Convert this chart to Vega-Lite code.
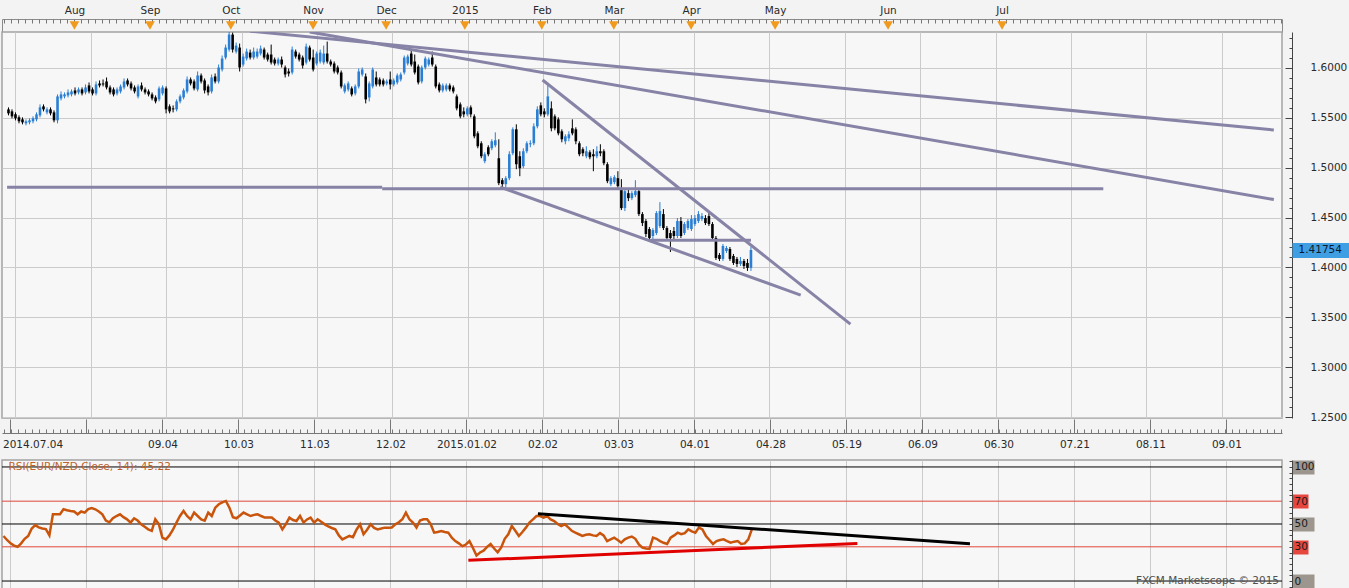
{
  "$schema": "https://vega.github.io/schema/vega-lite/v6.json",
  "background": "#f3f3f3",
  "padding": 0,
  "spacing": 0,
  "bounds": "flush",
  "config": {
    "view": {"stroke": "#a3a3a3", "strokeWidth": 1.5, "fill": "#f7f7f7"},
    "font": "DejaVu Sans",
    "axis": {"labelFont": "DejaVu Sans", "labelFontSize": 10, "labelColor": "#2a2a2a", "tickColor": "#666666", "domainColor": "#666666", "gridColor": "#cbcbcb", "gridWidth": 1, "labelFlush": false, "labelOverlap": false}
  },
  "datasets": {
    "bars": [
      {"i":0,"o":1.5585,"h":1.5605,"l":1.5525,"c":1.5545,"r":39.5},
      {"i":1,"o":1.5565,"h":1.5585,"l":1.5495,"c":1.5515,"r":36},
      {"i":2,"o":1.5535,"h":1.5555,"l":1.5475,"c":1.5495,"r":33},
      {"i":3,"o":1.5505,"h":1.5525,"l":1.5445,"c":1.5465,"r":31},
      {"i":4,"o":1.5485,"h":1.5505,"l":1.5435,"c":1.5455,"r":30},
      {"i":5,"o":1.5445,"h":1.5485,"l":1.5425,"c":1.5465,"r":33},
      {"i":6,"o":1.5455,"h":1.5495,"l":1.5435,"c":1.5475,"r":37},
      {"i":7,"o":1.5465,"h":1.5515,"l":1.5445,"c":1.5495,"r":39.5},
      {"i":8,"o":1.5485,"h":1.5555,"l":1.5465,"c":1.5535,"r":46},
      {"i":9,"o":1.5525,"h":1.5635,"l":1.5505,"c":1.5605,"r":49},
      {"i":10,"o":1.5615,"h":1.5635,"l":1.5565,"c":1.5585,"r":47},
      {"i":11,"o":1.5555,"h":1.5605,"l":1.5535,"c":1.5585,"r":46},
      {"i":12,"o":1.5585,"h":1.5605,"l":1.5525,"c":1.5545,"r":45.5},
      {"i":13,"o":1.5555,"h":1.5575,"l":1.5455,"c":1.5475,"r":40},
      {"i":14,"o":1.5475,"h":1.5735,"l":1.5445,"c":1.5715,"r":58.5},
      {"i":15,"o":1.5695,"h":1.5765,"l":1.5675,"c":1.5735,"r":58.5},
      {"i":16,"o":1.5715,"h":1.5755,"l":1.5695,"c":1.5735,"r":58.5},
      {"i":17,"o":1.5725,"h":1.5785,"l":1.5705,"c":1.5755,"r":62.9},
      {"i":18,"o":1.5735,"h":1.5785,"l":1.5715,"c":1.5765,"r":62},
      {"i":19,"o":1.5775,"h":1.5805,"l":1.5725,"c":1.5745,"r":61.4},
      {"i":20,"o":1.5755,"h":1.5805,"l":1.5735,"c":1.5785,"r":61},
      {"i":21,"o":1.5785,"h":1.5805,"l":1.5725,"c":1.5745,"r":58.5},
      {"i":22,"o":1.5755,"h":1.5835,"l":1.5735,"c":1.5805,"r":61},
      {"i":23,"o":1.5825,"h":1.5855,"l":1.5745,"c":1.5765,"r":60},
      {"i":24,"o":1.5785,"h":1.5805,"l":1.5725,"c":1.5745,"r":63},
      {"i":25,"o":1.5745,"h":1.5865,"l":1.5725,"c":1.5835,"r":64},
      {"i":26,"o":1.5845,"h":1.5875,"l":1.5805,"c":1.5825,"r":62.9},
      {"i":27,"o":1.5845,"h":1.5885,"l":1.5815,"c":1.5835,"r":61},
      {"i":28,"o":1.5865,"h":1.5905,"l":1.5785,"c":1.5805,"r":58.5},
      {"i":29,"o":1.5805,"h":1.5825,"l":1.5735,"c":1.5755,"r":53},
      {"i":30,"o":1.5785,"h":1.5805,"l":1.5715,"c":1.5735,"r":51.5},
      {"i":31,"o":1.5745,"h":1.5805,"l":1.5725,"c":1.5785,"r":55},
      {"i":32,"o":1.5765,"h":1.5835,"l":1.5745,"c":1.5815,"r":57},
      {"i":33,"o":1.5805,"h":1.5895,"l":1.5785,"c":1.5865,"r":58.5},
      {"i":34,"o":1.5875,"h":1.5895,"l":1.5815,"c":1.5835,"r":56},
      {"i":35,"o":1.5845,"h":1.5865,"l":1.5775,"c":1.5795,"r":54.1},
      {"i":36,"o":1.5805,"h":1.5825,"l":1.5745,"c":1.5765,"r":51.2},
      {"i":37,"o":1.5715,"h":1.5835,"l":1.5695,"c":1.5815,"r":55},
      {"i":38,"o":1.5825,"h":1.5855,"l":1.5765,"c":1.5785,"r":53},
      {"i":39,"o":1.5785,"h":1.5805,"l":1.5735,"c":1.5755,"r":49.7},
      {"i":40,"o":1.5765,"h":1.5785,"l":1.5715,"c":1.5735,"r":47.5},
      {"i":41,"o":1.5735,"h":1.5755,"l":1.5675,"c":1.5695,"r":45.3},
      {"i":42,"o":1.5705,"h":1.5725,"l":1.5645,"c":1.5665,"r":44},
      {"i":43,"o":1.5685,"h":1.5815,"l":1.5665,"c":1.5795,"r":54.1},
      {"i":44,"o":1.5745,"h":1.5825,"l":1.5725,"c":1.5805,"r":50},
      {"i":45,"o":1.5795,"h":1.5815,"l":1.5545,"c":1.5585,"r":38},
      {"i":46,"o":1.5615,"h":1.5635,"l":1.5545,"c":1.5565,"r":36.5},
      {"i":47,"o":1.5595,"h":1.5625,"l":1.5555,"c":1.5585,"r":40},
      {"i":48,"o":1.5585,"h":1.5685,"l":1.5565,"c":1.5665,"r":45},
      {"i":49,"o":1.5665,"h":1.5735,"l":1.5645,"c":1.5715,"r":51.2},
      {"i":50,"o":1.5705,"h":1.5795,"l":1.5685,"c":1.5775,"r":57},
      {"i":51,"o":1.5765,"h":1.5915,"l":1.5745,"c":1.5885,"r":61.4},
      {"i":52,"o":1.5885,"h":1.5905,"l":1.5825,"c":1.5845,"r":57},
      {"i":53,"o":1.5865,"h":1.5885,"l":1.5775,"c":1.5795,"r":54.1},
      {"i":54,"o":1.5785,"h":1.5965,"l":1.5765,"c":1.5925,"r":60},
      {"i":55,"o":1.5925,"h":1.5945,"l":1.5845,"c":1.5865,"r":57},
      {"i":56,"o":1.5875,"h":1.5895,"l":1.5745,"c":1.5775,"r":54.1},
      {"i":57,"o":1.5815,"h":1.5835,"l":1.5725,"c":1.5755,"r":53},
      {"i":58,"o":1.5765,"h":1.5935,"l":1.5745,"c":1.5905,"r":60},
      {"i":59,"o":1.5915,"h":1.5945,"l":1.5845,"c":1.5865,"r":57},
      {"i":60,"o":1.5865,"h":1.6035,"l":1.5845,"c":1.6005,"r":64.3},
      {"i":61,"o":1.5985,"h":1.6125,"l":1.5965,"c":1.6095,"r":67.3},
      {"i":62,"o":1.6105,"h":1.6235,"l":1.6085,"c":1.6205,"r":69},
      {"i":63,"o":1.6185,"h":1.6365,"l":1.6165,"c":1.6335,"r":70.2},
      {"i":64,"o":1.6335,"h":1.6355,"l":1.6155,"c":1.6185,"r":64.3},
      {"i":65,"o":1.6165,"h":1.6255,"l":1.6145,"c":1.6225,"r":56},
      {"i":66,"o":1.6205,"h":1.6245,"l":1.5965,"c":1.6005,"r":55},
      {"i":67,"o":1.6035,"h":1.6145,"l":1.6015,"c":1.6115,"r":57.5},
      {"i":68,"o":1.6095,"h":1.6195,"l":1.6075,"c":1.6165,"r":60},
      {"i":69,"o":1.6155,"h":1.6185,"l":1.6085,"c":1.6105,"r":58.5},
      {"i":70,"o":1.6105,"h":1.6205,"l":1.6085,"c":1.6165,"r":57},
      {"i":71,"o":1.6115,"h":1.6195,"l":1.6095,"c":1.6165,"r":58},
      {"i":72,"o":1.6145,"h":1.6225,"l":1.6125,"c":1.6195,"r":58.5},
      {"i":73,"o":1.6185,"h":1.6205,"l":1.6085,"c":1.6105,"r":57},
      {"i":74,"o":1.6135,"h":1.6155,"l":1.6065,"c":1.6085,"r":55.6},
      {"i":75,"o":1.6135,"h":1.6235,"l":1.6035,"c":1.6055,"r":55.6},
      {"i":76,"o":1.6085,"h":1.6105,"l":1.6025,"c":1.6045,"r":55.6},
      {"i":77,"o":1.6045,"h":1.6105,"l":1.6025,"c":1.6085,"r":53},
      {"i":78,"o":1.6085,"h":1.6115,"l":1.6005,"c":1.6035,"r":51.2},
      {"i":79,"o":1.6005,"h":1.6025,"l":1.5905,"c":1.5935,"r":45.3},
      {"i":80,"o":1.5965,"h":1.5995,"l":1.5915,"c":1.5945,"r":50},
      {"i":81,"o":1.5955,"h":1.6215,"l":1.5935,"c":1.6185,"r":55.6},
      {"i":82,"o":1.6165,"h":1.6185,"l":1.6095,"c":1.6115,"r":53.5},
      {"i":83,"o":1.6135,"h":1.6155,"l":1.6065,"c":1.6085,"r":52.6},
      {"i":84,"o":1.6105,"h":1.6125,"l":1.5995,"c":1.6025,"r":57},
      {"i":85,"o":1.6055,"h":1.6245,"l":1.6035,"c":1.6215,"r":51.2},
      {"i":86,"o":1.6205,"h":1.6225,"l":1.6065,"c":1.6085,"r":54},
      {"i":87,"o":1.6105,"h":1.6185,"l":1.5965,"c":1.5985,"r":55.6},
      {"i":88,"o":1.6045,"h":1.6165,"l":1.6025,"c":1.6145,"r":51.2},
      {"i":89,"o":1.6065,"h":1.6185,"l":1.6045,"c":1.6155,"r":54.1},
      {"i":90,"o":1.6055,"h":1.6225,"l":1.6035,"c":1.6145,"r":52},
      {"i":91,"o":1.6145,"h":1.6265,"l":1.6045,"c":1.6065,"r":49.7},
      {"i":92,"o":1.6065,"h":1.6085,"l":1.6015,"c":1.6035,"r":48},
      {"i":93,"o":1.6045,"h":1.6065,"l":1.5945,"c":1.5965,"r":46.5},
      {"i":94,"o":1.6005,"h":1.6025,"l":1.5935,"c":1.5955,"r":45.3},
      {"i":95,"o":1.5955,"h":1.5975,"l":1.5795,"c":1.5815,"r":40},
      {"i":96,"o":1.5765,"h":1.5845,"l":1.5745,"c":1.5825,"r":36.5},
      {"i":97,"o":1.5785,"h":1.5865,"l":1.5765,"c":1.5845,"r":38},
      {"i":98,"o":1.5795,"h":1.5815,"l":1.5715,"c":1.5735,"r":39.5},
      {"i":99,"o":1.5745,"h":1.5835,"l":1.5725,"c":1.5815,"r":38.5},
      {"i":100,"o":1.5815,"h":1.5995,"l":1.5795,"c":1.5965,"r":45},
      {"i":101,"o":1.5935,"h":1.6005,"l":1.5915,"c":1.5985,"r":49.7},
      {"i":102,"o":1.5915,"h":1.5945,"l":1.5645,"c":1.5685,"r":41},
      {"i":103,"o":1.5705,"h":1.5865,"l":1.5665,"c":1.5845,"r":45},
      {"i":104,"o":1.5815,"h":1.6005,"l":1.5795,"c":1.5985,"r":49.7},
      {"i":105,"o":1.5905,"h":1.5965,"l":1.5815,"c":1.5835,"r":46.5},
      {"i":106,"o":1.5885,"h":1.5905,"l":1.5815,"c":1.5835,"r":45.3},
      {"i":107,"o":1.5875,"h":1.5895,"l":1.5815,"c":1.5835,"r":46},
      {"i":108,"o":1.5845,"h":1.5885,"l":1.5825,"c":1.5865,"r":46.8},
      {"i":109,"o":1.5885,"h":1.5965,"l":1.5785,"c":1.5835,"r":46.8},
      {"i":110,"o":1.5835,"h":1.5895,"l":1.5815,"c":1.5875,"r":47},
      {"i":111,"o":1.5855,"h":1.5945,"l":1.5835,"c":1.5925,"r":49.7},
      {"i":112,"o":1.5885,"h":1.5955,"l":1.5865,"c":1.5935,"r":51.5},
      {"i":113,"o":1.5955,"h":1.6125,"l":1.5935,"c":1.6105,"r":54.1},
      {"i":114,"o":1.6045,"h":1.6135,"l":1.6025,"c":1.6115,"r":60},
      {"i":115,"o":1.6145,"h":1.6175,"l":1.6015,"c":1.6035,"r":54.1},
      {"i":116,"o":1.6065,"h":1.6135,"l":1.5935,"c":1.5955,"r":51.2},
      {"i":117,"o":1.6015,"h":1.6035,"l":1.5835,"c":1.5855,"r":46.8},
      {"i":118,"o":1.5865,"h":1.6025,"l":1.5845,"c":1.6005,"r":53},
      {"i":119,"o":1.6005,"h":1.6115,"l":1.5985,"c":1.6095,"r":54.1},
      {"i":120,"o":1.6035,"h":1.6105,"l":1.6015,"c":1.6085,"r":54.1},
      {"i":121,"o":1.6105,"h":1.6165,"l":1.6015,"c":1.6035,"r":50},
      {"i":122,"o":1.6015,"h":1.6035,"l":1.5795,"c":1.5815,"r":42.4},
      {"i":123,"o":1.5835,"h":1.5855,"l":1.5755,"c":1.5775,"r":43},
      {"i":124,"o":1.5775,"h":1.5845,"l":1.5755,"c":1.5825,"r":43.9},
      {"i":125,"o":1.5785,"h":1.5845,"l":1.5765,"c":1.5825,"r":43},
      {"i":126,"o":1.5825,"h":1.5845,"l":1.5765,"c":1.5785,"r":42.4},
      {"i":127,"o":1.5805,"h":1.5825,"l":1.5745,"c":1.5765,"r":38},
      {"i":128,"o":1.5715,"h":1.5735,"l":1.5575,"c":1.5595,"r":35},
      {"i":129,"o":1.5635,"h":1.5655,"l":1.5495,"c":1.5515,"r":33},
      {"i":130,"o":1.5565,"h":1.5605,"l":1.5505,"c":1.5535,"r":30.6},
      {"i":131,"o":1.5535,"h":1.5615,"l":1.5515,"c":1.5595,"r":32},
      {"i":132,"o":1.5605,"h":1.5625,"l":1.5505,"c":1.5535,"r":35},
      {"i":133,"o":1.5515,"h":1.5535,"l":1.5295,"c":1.5315,"r":29},
      {"i":134,"o":1.5345,"h":1.5365,"l":1.5195,"c":1.5215,"r":22.3},
      {"i":135,"o":1.5245,"h":1.5265,"l":1.5095,"c":1.5115,"r":25},
      {"i":136,"o":1.5065,"h":1.5155,"l":1.5045,"c":1.5135,"r":26.6},
      {"i":137,"o":1.5205,"h":1.5225,"l":1.5115,"c":1.5135,"r":30},
      {"i":138,"o":1.5195,"h":1.5285,"l":1.5175,"c":1.5265,"r":32.5},
      {"i":139,"o":1.5225,"h":1.5355,"l":1.5205,"c":1.5275,"r":28.5},
      {"i":140,"o":1.5095,"h":1.5285,"l":1.4825,"c":1.4845,"r":25.2},
      {"i":141,"o":1.4875,"h":1.4895,"l":1.4805,"c":1.4835,"r":29.5},
      {"i":142,"o":1.4835,"h":1.4915,"l":1.4805,"c":1.4895,"r":37},
      {"i":143,"o":1.4895,"h":1.5165,"l":1.4875,"c":1.5135,"r":41},
      {"i":144,"o":1.5145,"h":1.5405,"l":1.5125,"c":1.5385,"r":48.2},
      {"i":145,"o":1.5385,"h":1.5435,"l":1.4985,"c":1.5035,"r":44},
      {"i":146,"o":1.5115,"h":1.5165,"l":1.4915,"c":1.4995,"r":39.5},
      {"i":147,"o":1.5015,"h":1.5195,"l":1.4995,"c":1.5165,"r":43},
      {"i":148,"o":1.5165,"h":1.5265,"l":1.5145,"c":1.5245,"r":46.8},
      {"i":149,"o":1.5235,"h":1.5275,"l":1.5205,"c":1.5245,"r":51.2},
      {"i":150,"o":1.5245,"h":1.5445,"l":1.5225,"c":1.5415,"r":54},
      {"i":151,"o":1.5415,"h":1.5615,"l":1.5395,"c":1.5585,"r":57},
      {"i":152,"o":1.5625,"h":1.5655,"l":1.5515,"c":1.5535,"r":57},
      {"i":153,"o":1.5565,"h":1.5595,"l":1.5505,"c":1.5535,"r":55.6},
      {"i":154,"o":1.5535,"h":1.5835,"l":1.5515,"c":1.5715,"r":57},
      {"i":155,"o":1.5595,"h":1.5665,"l":1.5365,"c":1.5395,"r":54},
      {"i":156,"o":1.5515,"h":1.5535,"l":1.5375,"c":1.5395,"r":52.6},
      {"i":157,"o":1.5485,"h":1.5505,"l":1.5325,"c":1.5345,"r":50},
      {"i":158,"o":1.5365,"h":1.5385,"l":1.5255,"c":1.5285,"r":48.2},
      {"i":159,"o":1.5265,"h":1.5335,"l":1.5235,"c":1.5315,"r":49.7},
      {"i":160,"o":1.5295,"h":1.5365,"l":1.5265,"c":1.5335,"r":47},
      {"i":161,"o":1.5395,"h":1.5485,"l":1.5325,"c":1.5345,"r":44},
      {"i":162,"o":1.5385,"h":1.5405,"l":1.5235,"c":1.5265,"r":42.4},
      {"i":163,"o":1.5245,"h":1.5265,"l":1.5115,"c":1.5135,"r":41},
      {"i":164,"o":1.5185,"h":1.5205,"l":1.5115,"c":1.5145,"r":39.5},
      {"i":165,"o":1.5115,"h":1.5215,"l":1.5095,"c":1.5165,"r":40.5},
      {"i":166,"o":1.5155,"h":1.5175,"l":1.5085,"c":1.5105,"r":41},
      {"i":167,"o":1.5135,"h":1.5185,"l":1.4965,"c":1.5115,"r":40},
      {"i":168,"o":1.5115,"h":1.5215,"l":1.5095,"c":1.5165,"r":39.5},
      {"i":169,"o":1.5165,"h":1.5235,"l":1.5115,"c":1.5145,"r":42},
      {"i":170,"o":1.5165,"h":1.5185,"l":1.5025,"c":1.5045,"r":40},
      {"i":171,"o":1.5035,"h":1.5055,"l":1.4845,"c":1.4865,"r":35},
      {"i":172,"o":1.4835,"h":1.4915,"l":1.4815,"c":1.4895,"r":36.5},
      {"i":173,"o":1.4855,"h":1.4925,"l":1.4835,"c":1.4905,"r":38},
      {"i":174,"o":1.4895,"h":1.4965,"l":1.4795,"c":1.4815,"r":36},
      {"i":175,"o":1.4785,"h":1.4885,"l":1.4575,"c":1.4595,"r":33.6},
      {"i":176,"o":1.4595,"h":1.4785,"l":1.4565,"c":1.4765,"r":36.5},
      {"i":177,"o":1.4745,"h":1.4785,"l":1.4665,"c":1.4695,"r":38},
      {"i":178,"o":1.4695,"h":1.4765,"l":1.4675,"c":1.4745,"r":39},
      {"i":179,"o":1.4725,"h":1.4875,"l":1.4705,"c":1.4765,"r":37},
      {"i":180,"o":1.4765,"h":1.4785,"l":1.4515,"c":1.4535,"r":32},
      {"i":181,"o":1.4535,"h":1.4555,"l":1.4415,"c":1.4445,"r":29.2},
      {"i":182,"o":1.4465,"h":1.4485,"l":1.4305,"c":1.4335,"r":28.5},
      {"i":183,"o":1.4385,"h":1.4405,"l":1.4275,"c":1.4295,"r":28.1},
      {"i":184,"o":1.4315,"h":1.4395,"l":1.4285,"c":1.4375,"r":38},
      {"i":185,"o":1.4345,"h":1.4565,"l":1.4325,"c":1.4545,"r":37},
      {"i":186,"o":1.4415,"h":1.4655,"l":1.4395,"c":1.4565,"r":35},
      {"i":187,"o":1.4535,"h":1.4585,"l":1.4375,"c":1.4395,"r":33.5},
      {"i":188,"o":1.4395,"h":1.4415,"l":1.4275,"c":1.4295,"r":32.5},
      {"i":189,"o":1.4345,"h":1.4375,"l":1.4155,"c":1.4295,"r":38},
      {"i":190,"o":1.4365,"h":1.4405,"l":1.4285,"c":1.4315,"r":40},
      {"i":191,"o":1.4315,"h":1.4495,"l":1.4295,"c":1.4465,"r":42.4},
      {"i":192,"o":1.4465,"h":1.4505,"l":1.4295,"c":1.4315,"r":41},
      {"i":193,"o":1.4345,"h":1.4455,"l":1.4325,"c":1.4435,"r":42},
      {"i":194,"o":1.4395,"h":1.4485,"l":1.4375,"c":1.4465,"r":45.3},
      {"i":195,"o":1.4385,"h":1.4525,"l":1.4365,"c":1.4485,"r":43.5},
      {"i":196,"o":1.4435,"h":1.4525,"l":1.4415,"c":1.4495,"r":42.4},
      {"i":197,"o":1.4465,"h":1.4565,"l":1.4445,"c":1.4535,"r":46.8},
      {"i":198,"o":1.4485,"h":1.4545,"l":1.4465,"c":1.4515,"r":45.3},
      {"i":199,"o":1.4495,"h":1.4525,"l":1.4425,"c":1.4445,"r":39.5},
      {"i":200,"o":1.4515,"h":1.4545,"l":1.4415,"c":1.4435,"r":36},
      {"i":201,"o":1.4435,"h":1.4455,"l":1.4275,"c":1.4295,"r":32.5},
      {"i":202,"o":1.4295,"h":1.4315,"l":1.4075,"c":1.4095,"r":35},
      {"i":203,"o":1.4125,"h":1.4145,"l":1.4065,"c":1.4085,"r":36},
      {"i":204,"o":1.4085,"h":1.4235,"l":1.4065,"c":1.4215,"r":36.5},
      {"i":205,"o":1.4165,"h":1.4215,"l":1.4145,"c":1.4195,"r":35},
      {"i":206,"o":1.4185,"h":1.4205,"l":1.4065,"c":1.4085,"r":33.6},
      {"i":207,"o":1.4115,"h":1.4135,"l":1.4025,"c":1.4045,"r":34.5},
      {"i":208,"o":1.4085,"h":1.4105,"l":1.4005,"c":1.4035,"r":35},
      {"i":209,"o":1.4035,"h":1.4105,"l":1.4015,"c":1.4065,"r":32.5},
      {"i":210,"o":1.4065,"h":1.4085,"l":1.3985,"c":1.4015,"r":33},
      {"i":211,"o":1.4045,"h":1.4085,"l":1.3965,"c":1.3995,"r":36.5},
      {"i":212,"o":1.3995,"h":1.4205,"l":1.3965,"c":1.4175,"r":45.22}
    ],
    "months": [
      {"i":20.1,"m":"Aug"},{"i":41.5,"m":"Sep"},{"i":64.4,"m":"Oct"},{"i":87.7,"m":"Nov"},
      {"i":108.4,"m":"Dec"},{"i":130.7,"m":"2015"},{"i":152.5,"m":"Feb"},{"i":172.9,"m":"Mar"},
      {"i":194.8,"m":"Apr"},{"i":218.6,"m":"May"},{"i":250.6,"m":"Jun"},{"i":282.9,"m":"Jul"}
    ],
    "trend": [
      {"x1":69.0,"y1":1.6369,"x2":361.3,"y2":1.5378},
      {"x1":86.0,"y1":1.6361,"x2":361.3,"y2":1.4681},
      {"x1":152.5,"y1":1.5880,"x2":240.4,"y2":1.3432},
      {"x1":140.4,"y1":1.4806,"x2":226.2,"y2":1.3723},
      {"x1":-0.4,"y1":1.4805,"x2":106.7,"y2":1.4805},
      {"x1":106.7,"y1":1.4790,"x2":312.6,"y2":1.4790},
      {"x1":183.1,"y1":1.4272,"x2":212.0,"y2":1.4272}
    ],
    "rsitrend": [
      {"kind":"resistance","x1":151.4,"y1":59,"x2":273.8,"y2":32.7},
      {"kind":"support","x1":131.7,"y1":18.1,"x2":241.9,"y2":33}
    ],
    "levels": [{"v":100},{"v":70},{"v":50},{"v":30},{"v":0}]
  },
  "vconcat": [
    {
      "width": 1280, "height": 13,
      "view": {"stroke": "#8a8a8a", "strokeWidth": 1, "fill": "#f3f3f3"},
      "data": {"name": "months"},
      "resolve": {"scale": {"x": "independent"}},
      "layer": [
        {
          "mark": {"type": "point", "opacity": 0},
          "encoding": {
            "x": {"field": "i", "type": "quantitative", "scale": {"domain": [-0.425, 362.2], "nice": false, "zero": false},
              "axis": {"orient": "top", "title": null, "tickCount": 180, "labels": false, "domain": false, "grid": false, "tickSize": -4, "tickColor": "#777777", "minExtent": 18, "maxExtent": 18}},
            "y": {"datum": 0, "type": "quantitative", "scale": {"domain": [-1, 1]}, "axis": null}
          }
        },
        {
          "mark": {"type": "point", "shape": "triangle-down", "filled": true, "size": 95, "color": "#f09a1e", "opacity": 1},
          "encoding": {
            "x": {"field": "i", "type": "quantitative", "scale": {"domain": [-0.425, 362.2], "nice": false, "zero": false},
              "axis": {"orient": "top", "title": null, "values": [20.1,41.5,64.4,87.7,108.4,130.7,152.5,172.9,194.8,218.6,250.6,282.9],
                "labelExpr": "['Aug','Sep','Oct','Nov','Dec','2015','Feb','Mar','Apr','May','Jun','Jul'][indexof([20.1,41.5,64.4,87.7,108.4,130.7,152.5,172.9,194.8,218.6,250.6,282.9], datum.value)]",
                "ticks": false, "domain": false, "grid": false, "labelPadding": 4, "labelFontSize": 10.5, "minExtent": 18, "maxExtent": 18}},
            "y": {"datum": 0, "type": "quantitative", "scale": {"domain": [-1, 1]}, "axis": null}
          }
        }
      ]
    },
    {
      "width": 1280, "height": 386,
      "data": {"name": "bars"},
      "resolve": {"scale": {"y": "independent"}},
      "layer": [
        {
          "mark": {"type": "rule", "strokeWidth": 1, "clip": true},
          "encoding": {
            "x": {"field": "i", "type": "quantitative", "scale": {"domain": [-0.425, 362.2], "nice": false, "zero": false},
              "axis": {"orient": "bottom", "title": null, "values": [1.983,23.513,45.043,66.573,88.103,109.633,131.163,152.693,174.223,195.753,217.283,238.813,260.343,281.873,303.403,324.933,346.463], "grid": true, "labels": false, "ticks": false, "domain": false}},
            "y": {"field": "l", "type": "quantitative", "scale": {"domain": [1.249, 1.6361], "nice": false, "zero": false},
              "axis": {"orient": "right", "title": null, "offset": 10, "values": [1.25,1.3,1.35,1.4,1.45,1.5,1.55,1.6], "format": ".4f",
                "grid": true, "tickSize": -7, "labelPadding": 25, "domainColor": "#444444", "tickColor": "#444444", "labelFontSize": 10.5}},
            "y2": {"field": "h"},
            "color": {"condition": {"test": "datum.c >= datum.o", "value": "#2a7fd4"}, "value": "#000000"}
          }
        },
        {
          "mark": {"type": "bar", "orient": "vertical", "width": 2.6, "clip": true},
          "encoding": {
            "x": {"field": "i", "type": "quantitative", "scale": {"domain": [-0.425, 362.2], "nice": false, "zero": false}},
            "y": {"field": "o", "type": "quantitative", "scale": {"domain": [1.249, 1.6361], "nice": false, "zero": false},
              "axis": {"orient": "right", "title": null, "offset": 10, "tickCount": 40, "labels": false, "grid": false, "domain": false, "tickSize": -3, "tickColor": "#444444"}},
            "y2": {"field": "c"},
            "color": {"condition": {"test": "datum.c >= datum.o", "value": "#2a7fd4"}, "value": "#000000"}
          }
        },
        {
          "data": {"name": "trend"},
          "mark": {"type": "rule", "strokeWidth": 3, "color": "#8683a6", "clip": true},
          "encoding": {
            "x": {"field": "x1", "type": "quantitative", "scale": {"domain": [-0.425, 362.2], "nice": false, "zero": false}},
            "x2": {"field": "x2"},
            "y": {"field": "y1", "type": "quantitative", "scale": {"domain": [1.249, 1.6361], "nice": false, "zero": false},
              "axis": {"orient": "right", "title": null, "offset": 10, "values": [1.41754], "format": ".5f", "grid": false, "domain": false,
                "tickSize": 58, "tickWidth": 15, "tickColor": "#3f9fe2", "labelPadding": -52, "labelColor": "#0c1a30", "labelFontSize": 10.5}},
            "y2": {"field": "y2"}
          }
        }
      ]
    },
    {
      "width": 1280, "height": 42,
      "view": {"stroke": null, "fill": null},
      "data": {"name": "months"},
      "resolve": {"scale": {"x": "independent"}},
      "layer": [
        {
          "mark": {"type": "point", "opacity": 0},
          "encoding": {
            "x": {"field": "i", "type": "quantitative", "scale": {"domain": [-0.425, 362.2], "nice": false, "zero": false},
              "axis": {"orient": "bottom", "title": null, "offset": -27, "values": [1.983,23.513,45.043,66.573,88.103,109.633,131.163,152.693,174.223,195.753,217.283,238.813,260.343,281.873,303.403,324.933,346.463],
                "labelExpr": "['2014.07.04','','09.04','10.03','11.03','12.02','2015.01.02','02.02','03.03','04.01','04.28','05.19','06.09','06.30','07.21','08.11','09.01'][round((datum.value-1.983)/21.53)]",
                "tickSize": -14, "labelPadding": 20, "grid": false, "domainColor": "#777777", "tickColor": "#777777", "labelFontSize": 10.5,
                "labelAlign": {"condition": {"test": "datum.value < 5", "value": "left"}, "value": "center"},
                "labelOffset": {"condition": {"test": "datum.value < 5", "value": -8}, "value": 0}}},
            "y": {"datum": 0, "type": "quantitative", "scale": {"domain": [-1, 1]}, "axis": null}
          }
        },
        {
          "mark": {"type": "point", "opacity": 0},
          "encoding": {
            "x": {"field": "i", "type": "quantitative", "scale": {"domain": [-0.425, 362.2], "nice": false, "zero": false},
              "axis": {"orient": "bottom", "title": null, "offset": -27, "tickCount": 180, "tickSize": -4, "labels": false, "domain": false, "grid": false, "tickColor": "#777777"}},
            "y": {"datum": 0, "type": "quantitative", "scale": {"domain": [-1, 1]}, "axis": null}
          }
        }
      ]
    },
    {
      "width": 1280, "height": 129,
      "resolve": {"scale": {"y": "independent"}},
      "layer": [
        {
          "data": {"name": "levels"},
          "transform": [{"filter": "datum.v == 0 || datum.v == 50 || datum.v == 100"}],
          "mark": {"type": "rule", "strokeWidth": 1, "color": "#000000"},
          "encoding": {
            "y": {"field": "v", "type": "quantitative", "scale": {"domain": [-7, 106.1], "nice": false, "zero": false},
              "axis": {"orient": "right", "title": null, "offset": 10, "values": [0,50,100], "grid": false, "domain": false,
                "tickWidth": 14, "tickSize": 22, "tickColor": "#9c968f", "labelPadding": -20, "labelColor": "#1a1a1a", "labelFontSize": 10.5}}
          }
        },
        {
          "data": {"name": "levels"},
          "transform": [{"filter": "datum.v == 30 || datum.v == 70"}],
          "mark": {"type": "rule", "strokeWidth": 1, "color": "#e0483a"},
          "encoding": {
            "y": {"field": "v", "type": "quantitative", "scale": {"domain": [-7, 106.1], "nice": false, "zero": false},
              "axis": {"orient": "right", "title": null, "offset": 10, "values": [30,70], "grid": false, "domain": false,
                "tickWidth": 14, "tickSize": 16, "tickColor": "#e5473f", "labelPadding": -14, "labelColor": "#1a1a1a", "labelFontSize": 10.5}}
          }
        },
        {
          "data": {"name": "bars"},
          "mark": {"type": "line", "color": "#c9540c", "strokeWidth": 2.5, "clip": true},
          "encoding": {
            "x": {"field": "i", "type": "quantitative", "scale": {"domain": [-0.425, 362.2], "nice": false, "zero": false},
              "axis": {"orient": "bottom", "title": null, "values": [1.983,23.513,45.043,66.573,88.103,109.633,131.163,152.693,174.223,195.753,217.283,238.813,260.343,281.873,303.403,324.933,346.463], "grid": true, "labels": false, "ticks": false, "domain": false}},
            "y": {"field": "r", "type": "quantitative", "scale": {"domain": [-7, 106.1], "nice": false, "zero": false},
              "axis": {"orient": "right", "title": null, "offset": 10, "tickCount": 22, "labels": false, "grid": false, "domain": true, "domainColor": "#444444", "tickSize": -3, "tickColor": "#444444"}}
          }
        },
        {
          "data": {"name": "rsitrend"},
          "mark": {"type": "rule", "strokeWidth": 3, "clip": true},
          "encoding": {
            "x": {"field": "x1", "type": "quantitative", "scale": {"domain": [-0.425, 362.2], "nice": false, "zero": false}},
            "x2": {"field": "x2"},
            "y": {"field": "y1", "type": "quantitative", "scale": {"domain": [-7, 106.1], "nice": false, "zero": false}, "axis": null},
            "y2": {"field": "y2"},
            "color": {"field": "kind", "type": "nominal", "scale": {"domain": ["resistance", "support"], "range": ["#000000", "#e00000"]}, "legend": null}
          }
        },
        {
          "data": {"values": [{"label": "RSI(EUR/NZD.Close, 14): 45.22"}]},
          "mark": {"type": "text", "align": "left", "baseline": "middle", "color": "#c0622c", "fontSize": 10.5},
          "encoding": {
            "x": {"datum": 1.4, "type": "quantitative", "scale": {"domain": [-0.425, 362.2], "nice": false, "zero": false}},
            "y": {"datum": 100, "type": "quantitative", "scale": {"domain": [-7, 106.1], "nice": false, "zero": false}, "axis": null},
            "text": {"field": "label"}
          }
        },
        {
          "data": {"values": [{"label": "FXCM Marketscope © 2015"}]},
          "mark": {"type": "text", "align": "right", "baseline": "middle", "color": "#505050", "fontSize": 10.5, "dx": -3},
          "encoding": {
            "x": {"datum": 362.2, "type": "quantitative", "scale": {"domain": [-0.425, 362.2], "nice": false, "zero": false}},
            "y": {"datum": 0, "type": "quantitative", "scale": {"domain": [-7, 106.1], "nice": false, "zero": false}, "axis": null},
            "text": {"field": "label"}
          }
        }
      ]
    }
  ]
}
